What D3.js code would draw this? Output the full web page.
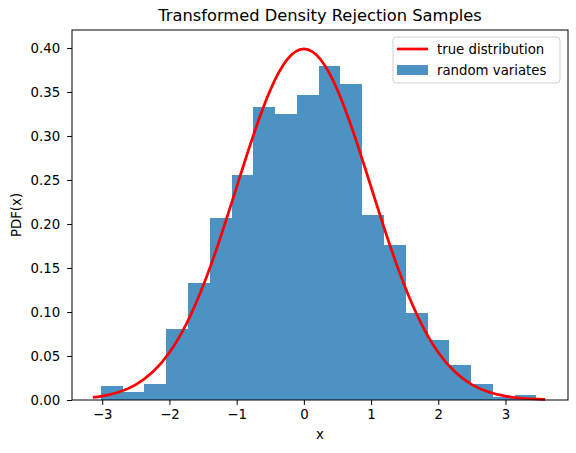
<!DOCTYPE html>
<html>
<head>
<meta charset="utf-8">
<script src="https://cdn.jsdelivr.net/npm/d3@7"></script>
<style>
  body { margin: 0; background: #fff; }
  text { font-family: "DejaVu Sans", sans-serif; fill: #000; }
</style>
</head>
<body>
<div id="chart"></div>
<script>
// histogram bins (20 equal-width bins) and their density heights
var binStart = -3.02;
var binEnd = 3.46;
var binCount = 20;
var densities = [0.0155, 0.0093, 0.0186, 0.0804, 0.133, 0.207, 0.256, 0.333, 0.325, 0.346,
                 0.380, 0.359, 0.210, 0.176, 0.099, 0.068, 0.040, 0.0185, 0.0035, 0.0060];

// red curve, points
var curveX = [-3.14, -3.0, -2.75, -2.5, -2.25, -2.0, -1.75, -1.5, -1.25, -1.0, -0.75, -0.5, -0.25, 0,
              0.25, 0.5, 0.75, 1.0, 1.25, 1.5, 1.75, 2.0, 2.25, 2.5, 2.75, 3.0, 3.25, 3.5, 3.59];
var curveY = [0.0029, 0.0044, 0.0091, 0.0175, 0.0317, 0.0540, 0.0863, 0.1295, 0.1827, 0.2420, 0.3011, 0.3521, 0.3867, 0.3989,
              0.3867, 0.3521, 0.3011, 0.2420, 0.1827, 0.1295, 0.0863, 0.0540, 0.0317, 0.0175, 0.0091, 0.0044, 0.0020, 0.0009, 0.0007];

var xTicks = [-3, -2, -1, 0, 1, 2, 3];
var yTicks = [0, 0.05, 0.10, 0.15, 0.20, 0.25, 0.30, 0.35, 0.40];

var width = 576, height = 453;
var margin = {left: 72, right: 8, top: 30, bottom: 53};
var fs = "13.3px";

var svg = d3.select("#chart").append("svg")
            .attr("width", width)
            .attr("height", height);

var x = d3.scaleLinear().domain([-3.45, 3.93]).range([margin.left, width - margin.right]);
var y = d3.scaleLinear().domain([0, 0.4204]).range([height - margin.bottom, margin.top]);

var binWidth = (binEnd - binStart) / binCount;
var bins = densities.map(function (d, i) {
  return {x0: binStart + i * binWidth, x1: binStart + (i + 1) * binWidth, h: d};
});

svg.append("g").selectAll("rect")
   .data(bins)
   .enter()
   .append("rect")
   .attr("x", function (d) { return x(d.x0); })
   .attr("width", function (d) { return x(d.x1) - x(d.x0); })
   .attr("y", function (d) { return y(d.h); })
   .attr("height", function (d) { return y(0) - y(d.h); })
   .attr("shape-rendering", "crispEdges")
   .style("fill", "#1f77b4")
   .style("fill-opacity", 0.8);

var linePts = curveX.map(function (d, i) { return [d, curveY[i]]; });
var line = d3.line()
             .x(function (d) { return x(d[0]); })
             .y(function (d) { return y(d[1]); })
             .curve(d3.curveNatural);

svg.append("path")
   .datum(linePts)
   .attr("d", line)
   .style("fill", "none")
   .style("stroke", "red")
   .style("stroke-width", 2.7);

// axes
var xAxis = svg.append("g")
   .attr("transform", "translate(0," + (height - margin.bottom) + ")")
   .call(d3.axisBottom(x).tickValues(xTicks).tickSize(4.9).tickPadding(5).tickFormat(function (d) { return d < 0 ? "\u2212" + Math.abs(d) : d; }));
var yAxis = svg.append("g")
   .attr("transform", "translate(" + margin.left + ",0)")
   .call(d3.axisLeft(y).tickValues(yTicks).tickSize(4.9).tickPadding(7).tickFormat(d3.format(".2f")));

[xAxis, yAxis].forEach(function (g) {
  g.select(".domain").remove();
  g.selectAll("text").style("font-size", fs).style("font-family", "DejaVu Sans, sans-serif");
  g.selectAll("line").style("stroke", "#000").style("stroke-width", 1);
});

// frame
svg.append("rect")
   .attr("x", margin.left)
   .attr("y", margin.top)
   .attr("width", width - margin.right - margin.left)
   .attr("height", height - margin.bottom - margin.top)
   .style("fill", "none")
   .style("stroke", "#000")
   .style("stroke-width", 1);

// title and labels
svg.append("text")
   .attr("x", (margin.left + width - margin.right) / 2)
   .attr("y", 21)
   .attr("text-anchor", "middle")
   .style("font-size", "16.3px")
   .text("Transformed Density Rejection Samples");

svg.append("text")
   .attr("x", (margin.left + width - margin.right) / 2)
   .attr("y", 439)
   .attr("text-anchor", "middle")
   .style("font-size", fs)
   .text("x");

svg.append("text")
   .attr("transform", "translate(20.5," + ((margin.top + height - margin.bottom) / 2) + ") rotate(-90)")
   .attr("text-anchor", "middle")
   .style("font-size", fs)
   .text("PDF(x)");

// legend
var legend = svg.append("g").attr("transform", "translate(393,37)");
legend.append("rect")
      .attr("width", 167).attr("height", 46)
      .attr("rx", 3)
      .style("fill", "#fff").style("fill-opacity", 0.8)
      .style("stroke", "#d0d0d0").style("stroke-width", 1);
legend.append("line")
      .attr("x1", 4).attr("x2", 35).attr("y1", 12).attr("y2", 12)
      .style("stroke", "red").style("stroke-width", 2.7);
legend.append("rect")
      .attr("x", 4).attr("y", 28).attr("width", 31).attr("height", 10)
      .style("fill", "#1f77b4").style("fill-opacity", 0.8);
legend.append("text").attr("x", 44).attr("y", 16.5).style("font-size", fs).text("true distribution");
legend.append("text").attr("x", 44).attr("y", 37.5).style("font-size", fs).text("random variates");
</script>
</body>
</html>
